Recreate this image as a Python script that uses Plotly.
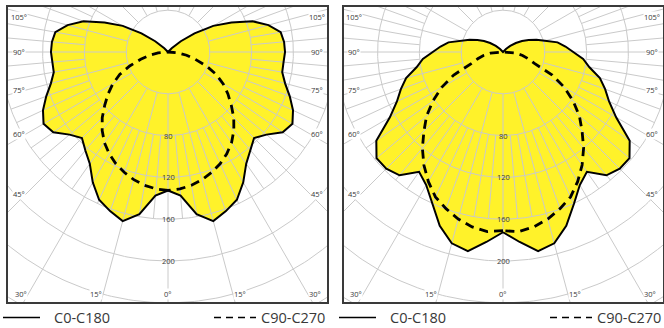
import numpy as np
import plotly.graph_objects as go

# ---------------- data (cd/klm) ----------------
gamma_c0 = list(range(0, 181, 5))
left_c0_c180 = [132.5, 138, 157.5, 167.5, 162, 156, 144, 130.5, 123, 116.5,
                123, 134, 137.5, 132, 124, 116, 111, 111, 112, 111.5,
                109.5, 99.5, 86, 67, 50, 31, 16, 5, 0,
                0, 0, 0, 0, 0, 0, 0, 0]
right_c0_c180 = [172.5, 182.5, 193.5, 189.5, 177, 160.5, 147, 140, 154, 158,
                 158, 148, 125, 112, 104, 96, 84, 77, 67, 60,
                 53, 41.5, 34, 27, 21, 15, 9, 4, 0,
                 0, 0, 0, 0, 0, 0, 0, 0]
gamma_c90 = list(range(0, 91, 5))
left_c90_c270 = [132.5, 131.5, 129.5, 126.5, 122.5, 118, 112.5, 106, 98, 89,
                 79, 70, 61, 51, 39, 27, 18, 9.5, 0]
right_c90_c270 = [171, 172.5, 170, 165.5, 159.5, 153, 143, 132, 120, 107,
                  95.5, 82, 68, 52, 32, 25, 19, 12, 0]

ring_values = [40, 80, 120, 160, 200, 240, 280, 320]
ring_labels = [80, 120, 160, 200]
angle_labels = [0, 15, 30, 45, 60, 75, 90, 105]
series_names = ["C0-C180", "C90-C270"]

# ---------------- layout constants (px) ----------------
W, H = 664, 328
S = 1.045                      # px per cd/klm
CY = 52
FRAME_T, FRAME_B = 7, 302
panels = [dict(left=8, right=327, cx=168, c0=left_c0_c180, c90=left_c90_c270, ax=""),
          dict(left=344, right=663, cx=503, c0=right_c0_c180, c90=right_c90_c270, ax="2")]

YELLOW = "#fff22a"
GRID = "#cacaca"
TXT = "#383838"
FONT = "Open Sans"


def loop(gam, r):
    g = np.radians(np.array(gam, dtype=float))
    r = np.array(r, dtype=float)
    xl = -r * np.sin(g)
    yl = -r * np.cos(g)
    x = np.concatenate([xl, -xl[::-1]])
    y = np.concatenate([yl, yl[::-1]])
    return x, y


def grid_xy():
    xs, ys = [], []
    t = np.radians(np.linspace(0, 360, 361))
    for rv in ring_values:
        xs += list(rv * np.sin(t)) + [None]
        ys += list(rv * np.cos(t)) + [None]
    for a in range(0, 360, 5):
        ar = np.radians(a)
        if a % 15 == 0:
            r0, r1 = 40, 420
        else:
            r0, r1 = 80, 160
        xs += [r0 * np.sin(ar), r1 * np.sin(ar), None]
        ys += [-r0 * np.cos(ar), -r1 * np.cos(ar), None]
    return xs, ys


fig = go.Figure()
annotations = []
layout_axes = {}

for p in panels:
    xa, ya = "x" + p["ax"], "y" + p["ax"]
    # fills
    for gam, vals in ((gamma_c0, p["c0"]), (gamma_c90, p["c90"])):
        x, y = loop(gam, vals)
        fig.add_trace(go.Scatter(x=x, y=y, mode="lines", fill="toself",
                                 fillcolor=YELLOW, line=dict(width=0),
                                 xaxis=xa, yaxis=ya, hoverinfo="skip"))
    # grid
    gx, gy = grid_xy()
    fig.add_trace(go.Scatter(x=gx, y=gy, mode="lines",
                             line=dict(color=GRID, width=1),
                             xaxis=xa, yaxis=ya, hoverinfo="skip"))
    # outlines
    x, y = loop(gamma_c0, p["c0"])
    fig.add_trace(go.Scatter(x=x, y=y, mode="lines", name=series_names[0],
                             line=dict(color="black", width=2),
                             xaxis=xa, yaxis=ya))
    x, y = loop(gamma_c90, p["c90"])
    fig.add_trace(go.Scatter(x=x, y=y, mode="lines", name=series_names[1],
                             line=dict(color="black", width=2.8, dash="9px,6px"),
                             xaxis=xa, yaxis=ya))

    # axes
    xr = [(p["left"] - p["cx"]) / S, (p["right"] - p["cx"]) / S]
    yr = [-(FRAME_B - CY) / S, (CY - FRAME_T) / S]
    common = dict(showgrid=False, zeroline=False, showticklabels=False, ticks="",
                  showline=True, mirror=True, linecolor="#3a3a3a", linewidth=1.5,
                  fixedrange=True)
    layout_axes["xaxis" + p["ax"]] = dict(range=xr, domain=[p["left"] / W, p["right"] / W],
                                         anchor=ya, **common)
    layout_axes["yaxis" + p["ax"]] = dict(range=yr, domain=[1 - FRAME_B / H, 1 - FRAME_T / H],
                                         anchor=xa, **common)

    # radial labels
    for rv in ring_labels:
        annotations.append(dict(x=0, y=-rv, xref=xa, yref=ya, text=str(rv),
                                showarrow=False, font=dict(family=FONT, size=7.5, color=TXT)))
    # angle labels
    for a in angle_labels:
        sides = [0] if a == 0 else [-1, 1]
        for sd in sides:
            sa, ca = np.sin(np.radians(a)), np.cos(np.radians(a))
            cand = []
            if sa > 1e-9:
                cand.append((149 / sa, "side"))
            if ca > 1e-9:
                cand.append((242 / ca, "bottom"))
            t, kind = min(cand)
            px = sd * t * sa
            py = t * ca
            if kind == "side":
                py = max(py * 0.955, -(CY - FRAME_T - 10))
            elif a > 0:
                px += sd * 7
            annotations.append(dict(x=px / S, y=-py / S, xref=xa, yref=ya,
                                    text=f"{a}°", showarrow=False, bgcolor="white",
                                    borderpad=0,
                                    font=dict(family=FONT, size=7.5, color=TXT)))

    # legend (drawn manually)
    ly = 317.5
    l0 = p["left"]
    fig.add_shape(type="line", xref="paper", yref="paper",
                  x0=(l0 - 5) / W, x1=(l0 + 32) / W, y0=1 - ly / H, y1=1 - ly / H,
                  line=dict(color="black", width=1.4))
    fig.add_shape(type="line", xref="paper", yref="paper",
                  x0=(l0 + 206) / W, x1=(l0 + 248) / W, y0=1 - ly / H, y1=1 - ly / H,
                  line=dict(color="black", width=1.4, dash="7px,5px"))
    annotations.append(dict(x=(l0 + 44) / W, y=1 - (ly - 0.5) / H, xref="paper", yref="paper",
                            text=series_names[0], showarrow=False, xanchor="left",
                            yanchor="middle", font=dict(family=FONT, size=14.5, color=TXT)))
    annotations.append(dict(x=(p["right"] - 0.5) / W, y=1 - (ly - 0.5) / H, xref="paper",
                            yref="paper", text=series_names[1], showarrow=False,
                            xanchor="right", yanchor="middle",
                            font=dict(family=FONT, size=14.5, color=TXT)))

fig.update_layout(width=W, height=H, margin=dict(l=0, r=0, t=0, b=0),
                  paper_bgcolor="white", plot_bgcolor="white", showlegend=False,
                  annotations=annotations, **layout_axes)

fig.write_html(
    "out.html",
    config={"displayModeBar": False},
    post_script="document.body.style.margin='0';document.body.style.padding='0';"
                "document.body.style.overflow='hidden';",
)
